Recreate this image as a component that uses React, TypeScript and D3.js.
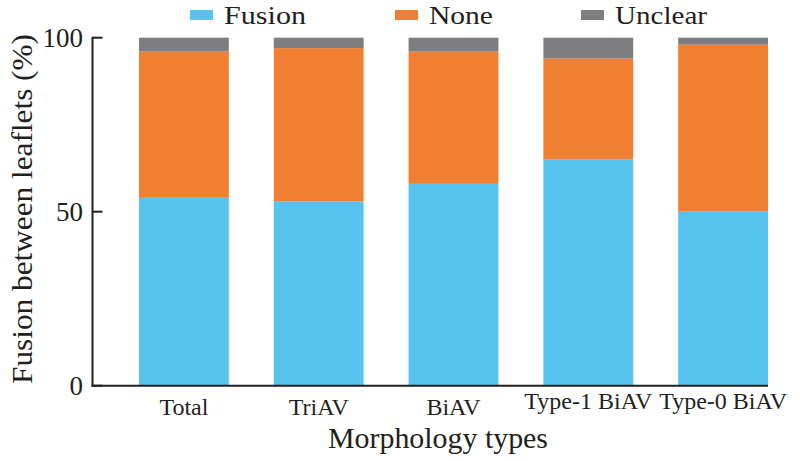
import React from "react";
import * as d3 from "d3";

const categories = ["Total", "TriAV", "BiAV", "Type-1 BiAV", "Type-0 BiAV"];
const fusion = [54, 53, 58, 65, 50];
const none = [42, 44, 38, 29, 48];
const unclear = [4, 3, 4, 6, 2];
const seriesNames = ["Fusion", "None", "Unclear"];
const seriesColors = ["#58C3EF", "#F17F33", "#7E7E81"];
const yTicks = [0, 50, 100];

const W = 800;
const H = 461;
const FONT = "Liberation Serif, DejaVu Serif, Noto Serif, Tinos, Times New Roman, serif";
const TEXT = "#231f20";

export default function App() {
  const rows = categories.map((c, i) => ({
    cat: c,
    Fusion: fusion[i],
    None: none[i],
    Unclear: unclear[i],
  }));
  const stack = d3.stack<any>().keys(seriesNames)(rows);

  const axisX0 = 92.5;
  const axisX1 = 768;
  const x = d3
    .scaleBand<string>()
    .domain(categories)
    .range([116.5, 790.5])
    .paddingInner(1 / 3)
    .paddingOuter(1 / 6);
  const y = d3.scaleLinear().domain([0, 100]).range([385.7, 37.7]);

  const legendX = [190, 395, 581];
  const legendW = [82, 64, 92];
  const ts = { fontFamily: FONT };

  return (
    <svg
      width={W}
      height={H}
      style={{ position: "absolute", left: 0, top: 0, background: "#fff", fontFamily: FONT }}
    >
      {stack.map((s, si) => (
        <g key={s.key} fill={seriesColors[si]}>
          {s.map((d, i) => (
            <rect
              key={i}
              x={x(categories[i])}
              width={x.bandwidth()}
              y={y(d[1])}
              height={y(d[0]) - y(d[1])}
            />
          ))}
        </g>
      ))}

      {/* y axis */}
      <line x1={axisX0} x2={axisX0} y1={y(100) - 1} y2={y(0) + 1} stroke={TEXT} strokeWidth={2} />
      {yTicks.map((t) => (
        <g key={t}>
          <line x1={axisX0} x2={axisX0 + 10} y1={y(t)} y2={y(t)} stroke={TEXT} strokeWidth={2} />
          <text x={83} y={y(t) + 9} textAnchor="end" fontSize={27} fill={TEXT} style={ts}>
            {t}
          </text>
        </g>
      ))}
      {/* x axis */}
      <line x1={axisX0 - 1} x2={axisX1} y1={y(0)} y2={y(0)} stroke={TEXT} strokeWidth={2} />
      {categories.map((c) => (
        <text
          key={c}
          x={(x(c) as number) + x.bandwidth() / 2}
          y={c.includes(" ") ? 409 : 415}
          textAnchor="middle"
          fontSize={24}
          fill={TEXT}
          style={ts}
        >
          {c}
        </text>
      ))}

      <text
        x={438}
        y={448}
        textAnchor="middle"
        fontSize={30}
        fill={TEXT}
        textLength={220}
        lengthAdjust="spacingAndGlyphs"
        style={ts}
      >
        Morphology types
      </text>
      <text
        transform={`translate(32, 209) rotate(-90)`}
        textAnchor="middle"
        fontSize={29}
        fill={TEXT}
        textLength={350}
        lengthAdjust="spacingAndGlyphs"
        style={ts}
      >
        Fusion between leaflets (%)
      </text>

      {/* legend */}
      {seriesNames.map((n, i) => (
        <g key={n} transform={`translate(${legendX[i]}, 0)`}>
          <rect x={0} y={10} width={23} height={10} fill={seriesColors[i]} />
          <text
            x={34}
            y={23.5}
            fontSize={26}
            fill={TEXT}
            textLength={legendW[i]}
            lengthAdjust="spacingAndGlyphs"
            style={ts}
          >
            {n}
          </text>
        </g>
      ))}
    </svg>
  );
}
